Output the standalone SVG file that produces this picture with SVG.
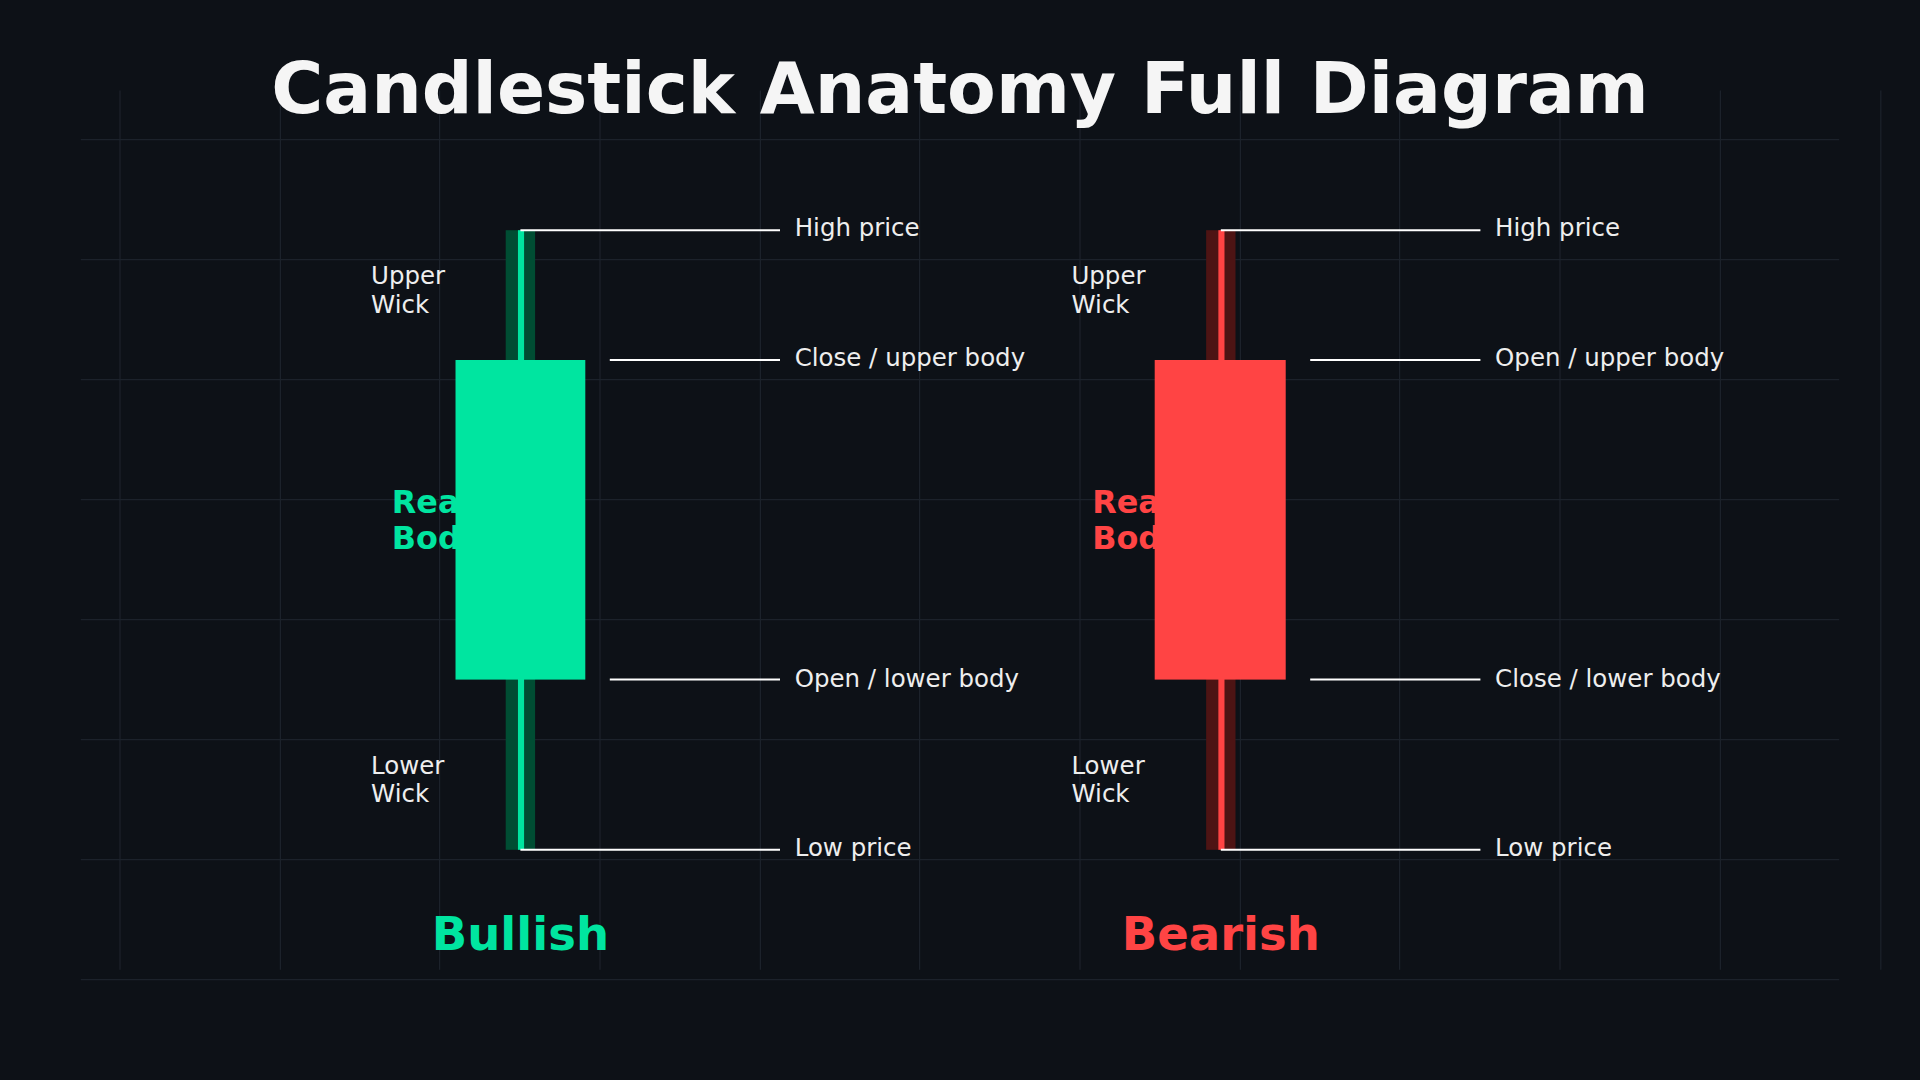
<svg xmlns="http://www.w3.org/2000/svg" width="1920" height="1080" viewBox="0 0 1920 1080">
<style>
.g{stroke:#1c222b;stroke-width:1}
.c{stroke:#ffffff;stroke-width:1.6}
.t{font-family:"DejaVu Sans",sans-serif;fill:#eeeeee;font-size:20px}
.b{font-family:"DejaVu Sans",sans-serif;font-weight:bold}
</style>
<rect width="1920" height="1080" fill="#0d1117"/>
<g transform="scale(1.22449)">
<g id="grid">
<path class="g" d="M66 114H1502M66 212H1502M66 310H1502M66 408H1502M66 506H1502M66 604H1502M66 702H1502M66 800H1502M98 74V792M229 74V792M359 74V792M490 74V792M621 74V792M751 74V792M882 74V792M1013 74V792M1143 74V792M1274 74V792M1405 74V792M1536 74V792"/>
</g>
<text x="784" y="92" text-anchor="middle" class="b" font-size="58" fill="#f5f5f5">Candlestick Anatomy Full Diagram</text>
<g id="bullish">
<text class="b" x="320" y="419" font-size="26" fill="#00e5a0">Real</text>
<text class="b" x="320" y="448" font-size="26" fill="#00e5a0">Body</text>
<rect x="413" y="188" width="24" height="506" fill="#004d33"/>
<rect x="423" y="188" width="5" height="506" fill="#00e5a0"/>
<rect x="372" y="294" width="106" height="261" fill="#00e5a0"/>
<text class="t" x="303" y="232">Upper</text><text class="t" x="303" y="256">Wick</text>
<text class="t" x="303" y="632">Lower</text><text class="t" x="303" y="655">Wick</text>
<text class="t" x="649" y="193">High price</text>
<text class="t" x="649" y="299">Close / upper body</text>
<text class="t" x="649" y="561">Open / lower body</text>
<text class="t" x="649" y="699">Low price</text>
<text class="b" x="425" y="776" text-anchor="middle" font-size="38" fill="#00e5a0">Bullish</text>
</g>
<g id="bearish">
<text class="b" x="892" y="419" font-size="26" fill="#ff4444">Real</text>
<text class="b" x="892" y="448" font-size="26" fill="#ff4444">Body</text>
<rect x="985" y="188" width="24" height="506" fill="#4d1414"/>
<rect x="995" y="188" width="5" height="506" fill="#ff4444"/>
<rect x="943" y="294" width="107" height="261" fill="#ff4444"/>
<text class="t" x="875" y="232">Upper</text><text class="t" x="875" y="256">Wick</text>
<text class="t" x="875" y="632">Lower</text><text class="t" x="875" y="655">Wick</text>
<text class="t" x="1221" y="193">High price</text>
<text class="t" x="1221" y="299">Open / upper body</text>
<text class="t" x="1221" y="561">Close / lower body</text>
<text class="t" x="1221" y="699">Low price</text>
<text class="b" x="997" y="776" text-anchor="middle" font-size="38" fill="#ff4444">Bearish</text>
</g>
<g id="connectors">
<path class="c" d="M425 188H637M498 294H637M498 555H637M425 694H637M997 188H1209M1070 294H1209M1070 555H1209M997 694H1209"/>
</g>
</g>
</svg>
